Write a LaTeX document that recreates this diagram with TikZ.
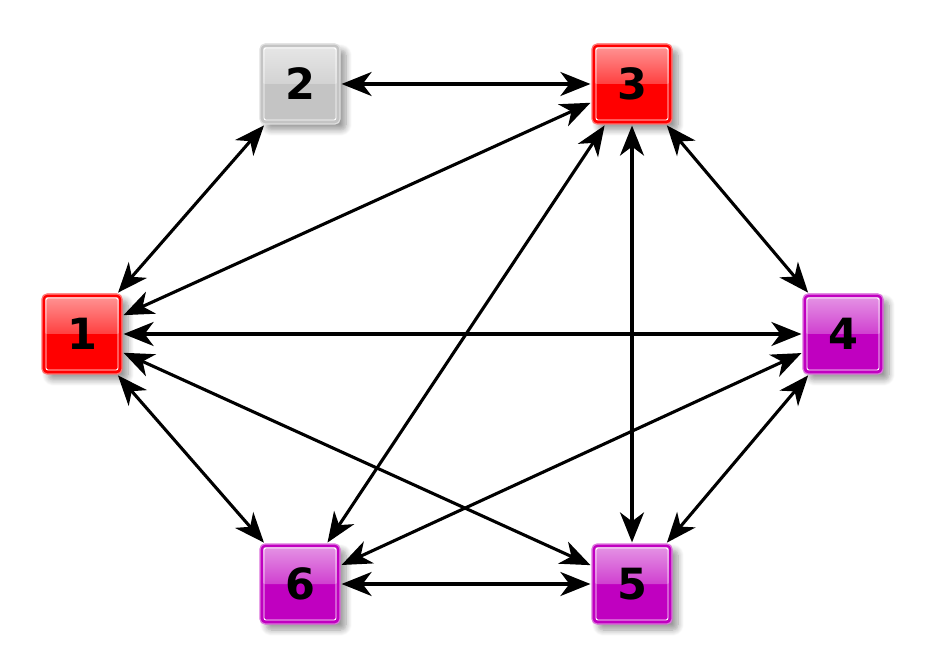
\documentclass[tikz,border=0pt]{standalone}
\usepackage{fontspec}
\setmainfont{DejaVu Sans}
\usetikzlibrary{arrows.meta,shadows.blur}
\definecolor{cred}{HTML}{FF0000}
\definecolor{cpur}{HTML}{C000C0}
\definecolor{cgray}{HTML}{C4C4C4}
\tikzset{
  box/.style={minimum size=80pt, inner sep=0pt, rounded corners=5pt,
    draw=#1!55!white, line width=1.2pt, fill=#1,
    blur shadow={shadow xshift=6pt, shadow yshift=-6pt, shadow opacity=40, shadow blur steps=8, shadow blur radius=6pt},
    font=\fontsize{43}{43}\selectfont\bfseries,
    path picture={
      \fill[#1] (path picture bounding box.south west) rectangle (path picture bounding box.north east);
      \shade[top color=#1!40!white, bottom color=#1!75!white]
        (path picture bounding box.west) rectangle (path picture bounding box.north east);
      \draw[white, line width=0.9pt, rounded corners=2pt]
        ([shift={(4pt,4pt)}]path picture bounding box.south west) rectangle
        ([shift={(-4pt,-4pt)}]path picture bounding box.north east);
      \draw[#1, line width=2.5pt, rounded corners=4pt]
        ([shift={(1.6pt,1.6pt)}]path picture bounding box.south west) rectangle
        ([shift={(-1.6pt,-1.6pt)}]path picture bounding box.north east);
    }},
  arr/.style={line width=3.1pt, {Stealth[length=30pt,width=24pt,inset=9pt]}-{Stealth[length=30pt,width=24pt,inset=9pt]}, shorten <=1pt, shorten >=1pt}
}
\begin{document}
\begin{tikzpicture}[x=1pt,y=1pt]
\useasboundingbox (0,0) rectangle (928,667);
\node[box=cred]  (n1) at (82,333) {1};
\node[box=cgray] (n2) at (300,583) {2};
\node[box=cred]  (n3) at (632,583) {3};
\node[box=cpur]  (n4) at (843,333) {4};
\node[box=cpur]  (n5) at (632,83) {5};
\node[box=cpur]  (n6) at (300,83) {6};
\draw[arr] (n2) -- (n3);
\draw[arr] (n2) -- (n1);
\draw[arr] (n3) -- (n1);
\draw[arr] (n3) -- (n6);
\draw[arr] (n3) -- (n5);
\draw[arr] (n3) -- (n4);
\draw[arr] (n1) -- (n4);
\draw[arr] (n1) -- (n6);
\draw[arr] (n1) -- (n5);
\draw[arr] (n4) -- (n6);
\draw[arr] (n4) -- (n5);
\draw[arr] (n6) -- (n5);
\end{tikzpicture}
\end{document}
